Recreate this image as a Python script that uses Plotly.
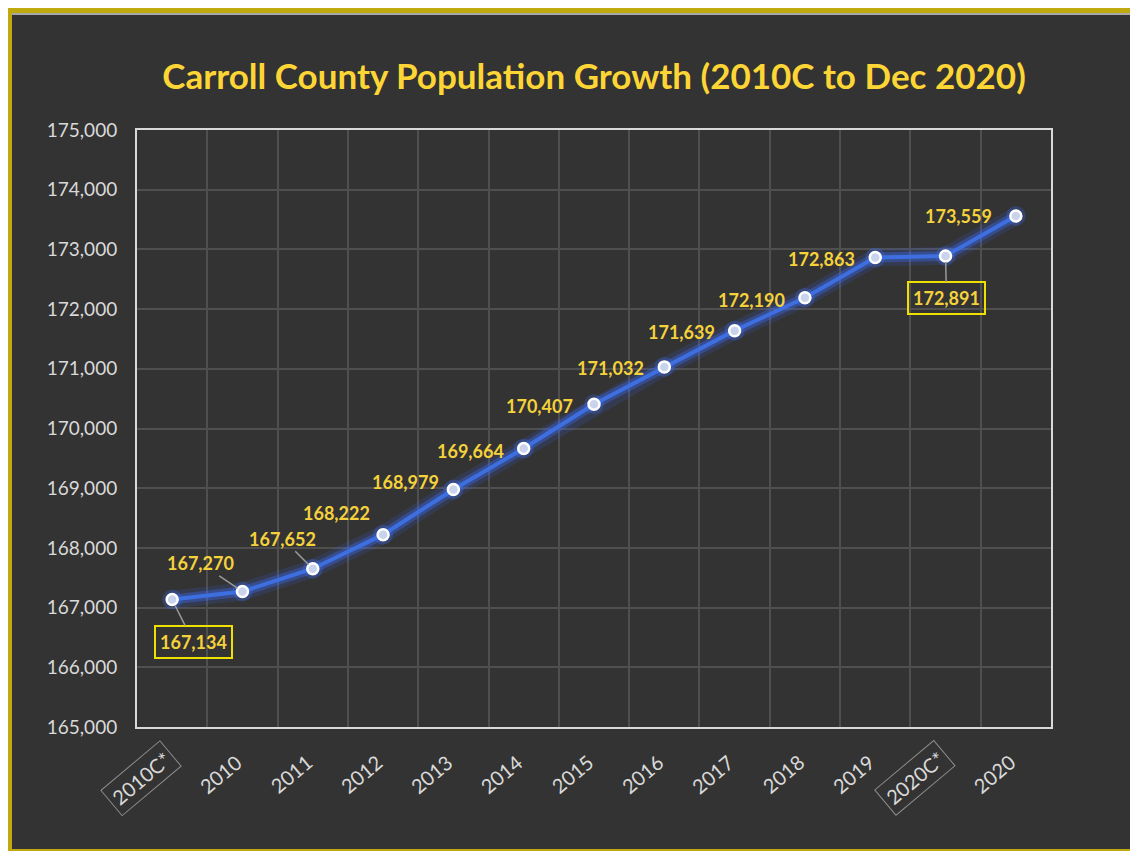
import plotly.graph_objects as go

# data
years = ['2010C*', '2010', '2011', '2012', '2013', '2014', '2015', '2016',
         '2017', '2018', '2019', '2020C*', '2020']
population = [167134, 167270, 167652, 168222, 168979, 169664, 170407, 171032,
              171639, 172190, 172863, 172891, 173559]
boxed = ['2010C*', '2020C*']
y_ticks = list(range(165000, 175001, 1000))

# label offsets (pixels) for each data label, and which get a leader line
label_dx = [21, -42, -30, -47, -48, -53, -55, -54, -53, -53, -54, 1, -57]
label_dy = [42, -28, -30, -22, -7, 2, 2, 1, 1, 2, 1, 42, 0]
leader = [True, True, True, False, False, False, False, False, False, False, False, True, False]

# the page puts the figure 8px in from the window corner
OFF = 8
W, H = 1130, 844
L, T = 137 - OFF, 130 - OFF
PW, PH = 914, 597
R, B = W - L - PW, H - T - PH


def px_x(p):
    return (p - OFF - L) / PW


def px_y(p):
    return (T + PH - (p - OFF)) / PH


bg = '#333333'
gold = '#bfa90f'
label_yellow = '#f5d23c'

fig = go.Figure()

# glow under the line
fig.add_trace(go.Scatter(x=years, y=population, mode='lines',
                         line=dict(color='rgba(60,110,255,0.15)', width=18),
                         hoverinfo='skip'))
fig.add_trace(go.Scatter(x=years, y=population, mode='lines',
                         line=dict(color='rgba(60,110,255,0.35)', width=10),
                         hoverinfo='skip'))
fig.add_trace(go.Scatter(x=years, y=population, mode='markers',
                         marker=dict(size=20, color='rgba(60,110,255,0.25)'),
                         hoverinfo='skip'))
fig.add_trace(go.Scatter(x=years, y=population, mode='lines+markers',
                         line=dict(color='#3d6fe0', width=4),
                         marker=dict(size=11, color='#c9d3ec',
                                     line=dict(color='white', width=2.5))))

# data labels (x given as category index: '2010' etc would be read as a number)
for i, (yr, val) in enumerate(zip(years, population)):
    extra = {}
    if yr in boxed:
        extra = dict(bordercolor='#f0e000', borderwidth=2, borderpad=4)
    fig.add_annotation(x=i, y=val, text='{:,}'.format(val),
                       showarrow=True, ax=label_dx[i], ay=label_dy[i],
                       arrowhead=0, arrowwidth=1.5 if leader[i] else 0.1, standoff=6,
                       arrowcolor='#9a9a9a' if leader[i] else bg,
                       font=dict(family='Lato', size=18, color=label_yellow, weight='bold'),
                       **extra)

# x category labels, rotated; census points boxed
for i, yr in enumerate(years):
    extra = {}
    if yr in boxed:
        extra = dict(bordercolor='#8c8c8c', borderwidth=1, borderpad=4)
    fig.add_annotation(x=i, y=0, xref='x', yref='paper', text=yr,
                       showarrow=False, textangle=-40,
                       xanchor='right', yanchor='top',
                       xshift=10 if yr in boxed else 6,
                       yshift=-13 if yr in boxed else -20,
                       font=dict(family='Lato', size=20, color='#d9d9d9'),
                       **extra)

# outer frame
fig.add_shape(type='rect', xref='paper', yref='paper', layer='below',
              x0=px_x(0), x1=px_x(1200), y0=px_y(H + OFF - 1), y1=px_y(4),
              fillcolor=gold, line=dict(width=0))
fig.add_shape(type='rect', xref='paper', yref='paper', layer='below',
              x0=px_x(12), x1=px_x(1200), y0=px_y(H + OFF - 3), y1=px_y(13),
              fillcolor=bg, line=dict(width=0))
fig.add_shape(type='line', xref='paper', yref='paper', layer='below',
              x0=px_x(12), x1=px_x(1200), y0=px_y(14), y1=px_y(14),
              line=dict(color='#d0d0d0', width=1.5))

fig.update_layout(
    width=W, height=H,
    margin=dict(l=L, r=R, t=T, b=B),
    paper_bgcolor='white', plot_bgcolor=bg,
    showlegend=False,
    title=dict(text='Carroll County Population Growth (2010C to Dec 2020)',
               x=0.5, xref='paper', xanchor='center',
               y=1 - (77 - OFF) / H, yref='container', yanchor='middle',
               font=dict(family='Lato', size=35, color='#fdd535', weight='bold')),
)
fig.update_xaxes(type='category', tickson='boundaries', range=[-0.5, len(years) - 0.5],
                 showticklabels=False, ticks='',
                 showgrid=True, gridcolor='#4f4f4f', gridwidth=1.5,
                 showline=True, mirror=True, linecolor='#d9d9d9', linewidth=2)
fig.update_yaxes(range=[165000, 175000], tickvals=y_ticks,
                 tickformat=',d', ticks='', ticklabelstandoff=14,
                 tickfont=dict(family='Lato', size=19, color='#d9d9d9'),
                 showgrid=True, gridcolor='#4f4f4f', gridwidth=1.5,
                 showline=True, mirror=True, linecolor='#d9d9d9', linewidth=2,
                 zeroline=False)

fig.write_html("out.html")
